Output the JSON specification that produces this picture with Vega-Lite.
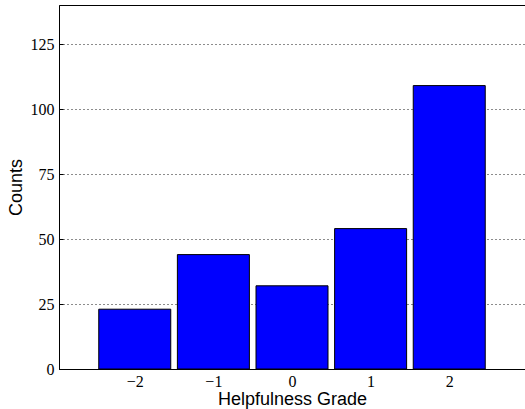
{
  "$schema": "https://vega.github.io/schema/vega-lite/v6.json",
  "width": 466,
  "height": 364,
  "autosize": {"type": "none"},
  "padding": {"left": 59, "top": 5, "right": 0, "bottom": 40},
  "background": "white",
  "config": {
    "view": {"stroke": "black", "strokeWidth": 1},
    "axis": {
      "domainColor": "black",
      "tickColor": "black",
      "labelFont": "Liberation Serif",
      "labelFontSize": 16,
      "labelColor": "black",
      "titleFont": "Liberation Sans",
      "titleFontSize": 18,
      "titleFontWeight": "normal",
      "titleColor": "black"
    }
  },
  "data": {
    "values": [
      {"grade": -2, "count": 23},
      {"grade": -1, "count": 44},
      {"grade": 0, "count": 32},
      {"grade": 1, "count": 54},
      {"grade": 2, "count": 109}
    ]
  },
  "mark": {"type": "bar", "size": 72, "fill": "#0000ff", "stroke": "black", "strokeWidth": 1},
  "encoding": {
    "x": {
      "field": "grade",
      "type": "quantitative",
      "scale": {"domain": [-2.9, 2.9], "nice": false, "zero": false},
      "axis": {
        "title": "Helpfulness Grade",
        "values": [-2, -1, 0, 1, 2],
        "grid": false,
        "tickSize": -4,
        "labelPadding": 8,
        "titlePadding": 1
      }
    },
    "y": {
      "field": "count",
      "type": "quantitative",
      "scale": {"domain": [0, 140], "nice": false},
      "axis": {
        "title": "Counts",
        "values": [0, 25, 50, 75, 100, 125],
        "grid": true,
        "gridColor": "black",
        "gridDash": [1, 3],
        "gridWidth": 1,
        "gridOpacity": 0.9,
        "tickSize": -4,
        "labelPadding": 9,
        "titlePadding": 5
      }
    }
  }
}
